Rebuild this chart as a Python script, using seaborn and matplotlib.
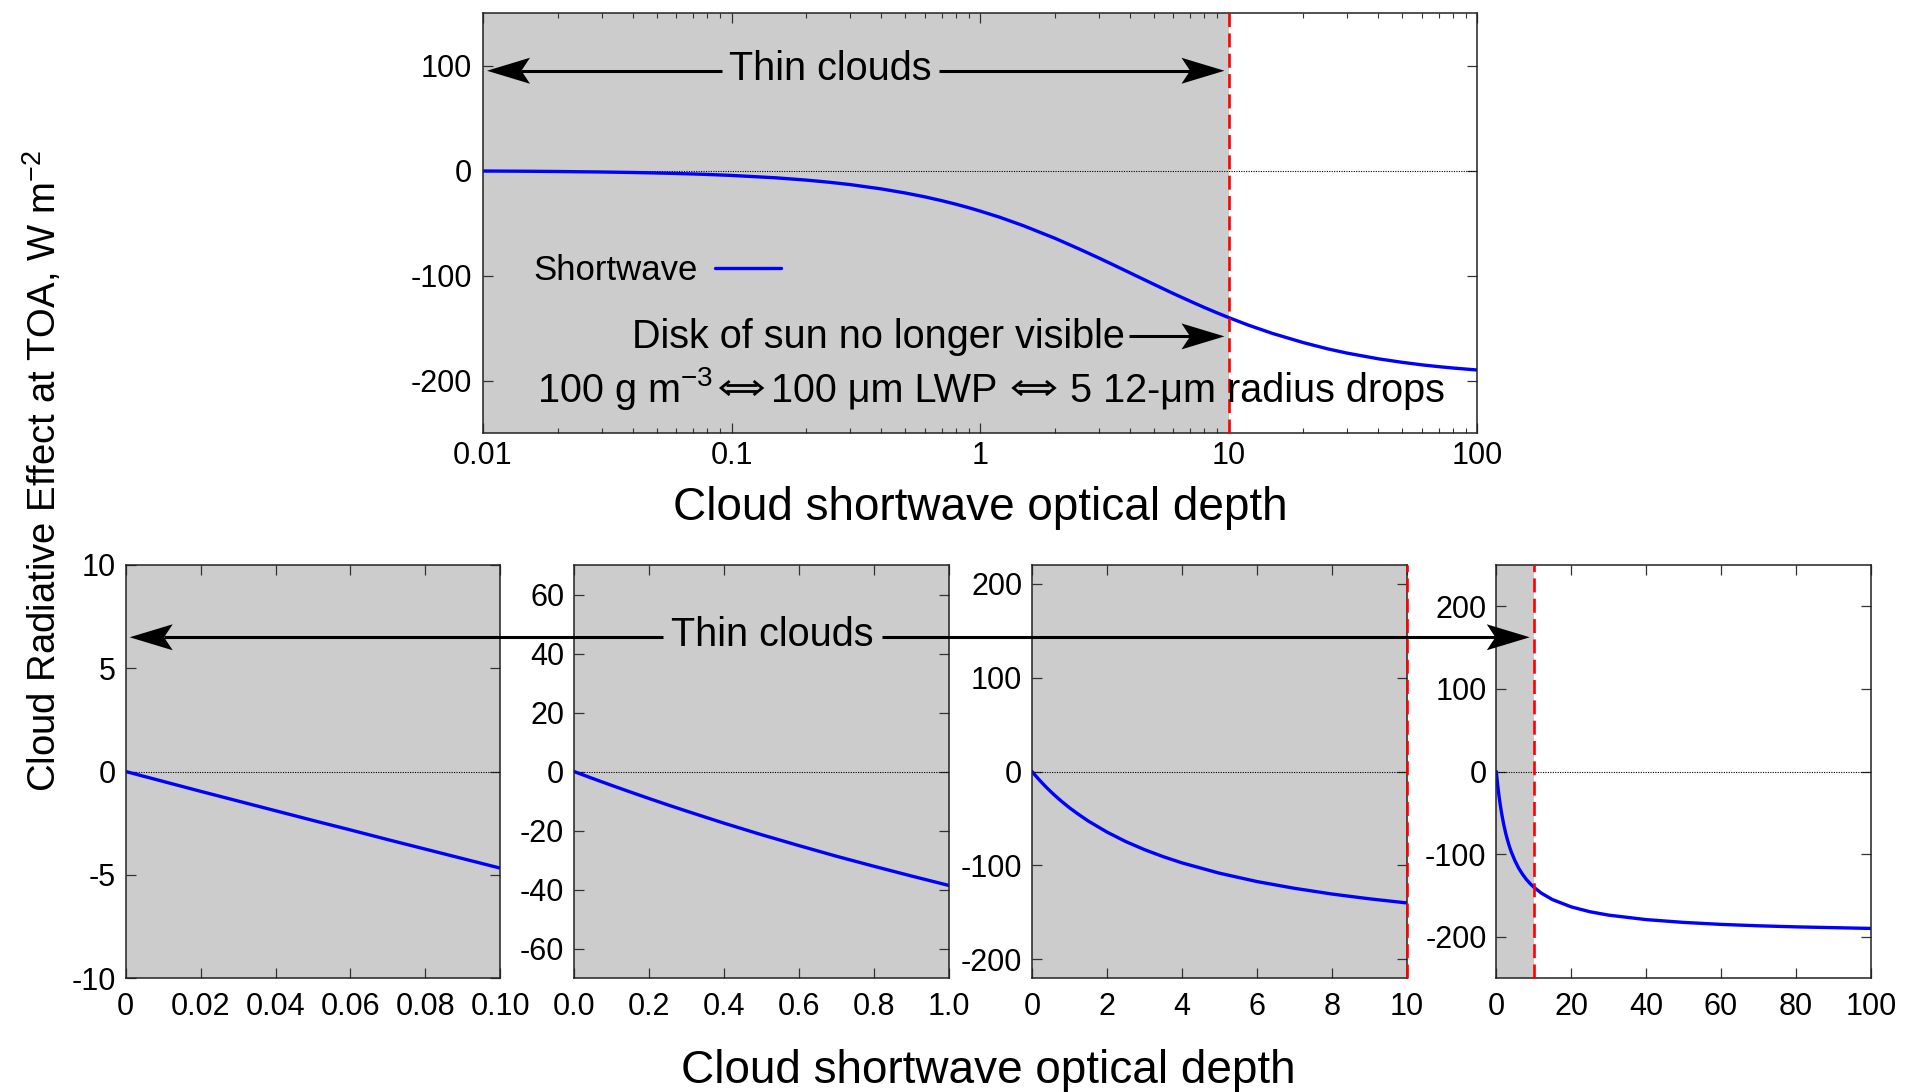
import numpy as np
import pandas as pd
import matplotlib
matplotlib.use("Agg")
import matplotlib.pyplot as plt
import seaborn as sns
from matplotlib.patches import Polygon
from matplotlib.ticker import LogLocator, NullFormatter

# Shortwave cloud radiative effect at TOA (W m-2) against cloud optical depth
tau = [0, 0.01, 0.015, 0.02, 0.03, 0.04, 0.05, 0.06, 0.07, 0.08, 0.1, 0.15, 0.2, 0.25,
       0.3, 0.4, 0.5, 0.6, 0.7, 0.8, 0.9, 1.0, 1.2, 1.5, 2, 2.5, 3, 3.5, 4, 5, 6, 7, 8,
       9, 10, 12, 15, 20, 25, 30, 40, 50, 60, 70, 80, 100]
sw_cre = [0, -0.48, -0.72, -0.96, -1.43, -1.90, -2.37, -2.83, -3.30, -3.76, -4.68, -6.93,
          -9.14, -11.3, -13.4, -17.5, -21.4, -25.1, -28.7, -32.1, -35.4, -38.6, -44.5,
          -52.7, -64.5, -74.6, -83.2, -90.7, -97.3, -108.3, -117.2, -124.4, -130.5,
          -135.6, -140.0, -147.2, -155.1, -163.9, -169.8, -173.9, -179.3, -182.7,
          -185.1, -186.8, -188.1, -190.0]

thin_limit = 10  # optical depth where the disk of the sun disappears

# Upper (log) panel axes
top_xlim = (0.01, 100)
top_ylim = (-250, 150)
top_xticks = [0.01, 0.1, 1, 10, 100]
top_xticklabels = ["0.01", "0.1", "1", "10", "100"]
top_yticks = [-200, -100, 0, 100]

# Lower (linear) panels
zoom_xlims = [(0, 0.1), (0, 1), (0, 10), (0, 100)]
zoom_ylims = [(-10, 10), (-70, 70), (-220, 220), (-250, 250)]
zoom_xticks = [[0, 0.02, 0.04, 0.06, 0.08, 0.10],
               [0, 0.2, 0.4, 0.6, 0.8, 1.0],
               [0, 2, 4, 6, 8, 10],
               [0, 20, 40, 60, 80, 100]]
zoom_xticklabels = [["0", "0.02", "0.04", "0.06", "0.08", "0.10"],
                    ["0.0", "0.2", "0.4", "0.6", "0.8", "1.0"],
                    ["0", "2", "4", "6", "8", "10"],
                    ["0", "20", "40", "60", "80", "100"]]
zoom_yticks = [[-10, -5, 0, 5, 10],
               [-60, -40, -20, 0, 20, 40, 60],
               [-200, -100, 0, 100, 200],
               [-200, -100, 0, 100, 200]]

df = pd.DataFrame({"tau": tau, "cre": sw_cre})

sns.set_style("ticks")
plt.rcParams.update({
    "font.family": ["Liberation Sans", "DejaVu Sans"],
    "mathtext.fontset": "custom",
    "mathtext.rm": "Liberation Sans",
    "mathtext.it": "Liberation Sans:italic",
    "mathtext.bf": "Liberation Sans:bold",
    "mathtext.default": "regular",
    "text.color": "black",
    "axes.labelcolor": "black",
    "axes.linewidth": 1.1,
    "axes.edgecolor": "#222222",
    "xtick.direction": "in",
    "ytick.direction": "in",
    "xtick.top": True,
    "ytick.right": True,
    "xtick.major.size": 7.5,
    "ytick.major.size": 7.5,
    "xtick.minor.size": 3.6,
    "ytick.minor.size": 3.6,
    "xtick.major.width": 0.9,
    "ytick.major.width": 0.9,
    "xtick.minor.width": 0.8,
    "ytick.minor.width": 0.8,
    "xtick.color": "#333333",
    "ytick.color": "#333333",
    "xtick.labelcolor": "black",
    "ytick.labelcolor": "black",
    "xtick.labelsize": 22,
    "ytick.labelsize": 22,
})

GRAY = "#cccccc"
BLUE = "#0000ff"
RED = "#ff0000"

W, H = 1913, 1092
fig = plt.figure(figsize=(W / 100, H / 100), dpi=100)


def box(left, top, right, bottom):
    return [left / W, 1 - bottom / H, (right - left) / W, (bottom - top) / H]


def decorate(ax, xmin):
    ax.axvspan(xmin, thin_limit, color=GRAY, lw=0, zorder=0)
    ax.axhline(0, color="k", lw=0.8, ls=(0, (1, 1.2)), zorder=1)
    ax.set_xlabel("")
    ax.set_ylabel("")
    for s in ax.spines.values():
        s.set_zorder(4)


# ---- upper panel ----
ax_top = fig.add_axes(box(483, 13, 1477, 433))
ax_top.set_xscale("log")
sns.lineplot(data=df[df.tau > 0], x="tau", y="cre", ax=ax_top, color=BLUE, lw=2.4,
             estimator=None, sort=False, label="Shortwave", zorder=3)
decorate(ax_top, top_xlim[0])
ax_top.axvline(thin_limit, color=RED, lw=1.9, dashes=(5.3, 2.4), zorder=5, clip_on=False)
ax_top.set_xlim(*top_xlim)
ax_top.set_ylim(*top_ylim)
ax_top.set_xticks(top_xticks, labels=top_xticklabels)
ax_top.xaxis.set_minor_locator(LogLocator(base=10, subs=np.arange(2, 10)))
ax_top.xaxis.set_minor_formatter(NullFormatter())
ax_top.set_yticks(top_yticks, labels=[f"{v:g}" for v in top_yticks])
ax_top.tick_params(axis="x", which="major", pad=5.5)
ax_top.tick_params(axis="y", pad=8)
ax_top.legend(loc="center left", bbox_to_anchor=(0.051, 0.386), frameon=False,
              markerfirst=False, fontsize=25, handlelength=1.9, handletextpad=0.5,
              borderpad=0, borderaxespad=0)

# ---- lower panels ----
lefts = [125.7, 574, 1032, 1496.3]
pw = 374.6
zaxes = []
for i, left in enumerate(lefts):
    ax = fig.add_axes(box(left, 565, left + pw, 978))
    sns.lineplot(data=df, x="tau", y="cre", ax=ax, color=BLUE, lw=2.4,
                 estimator=None, sort=False, legend=False, zorder=3)
    decorate(ax, zoom_xlims[i][0])
    xl = zoom_xlims[i]
    if xl[0] <= thin_limit <= xl[1]:
        ax.axvline(thin_limit, color=RED, lw=1.9, dashes=(5.3, 2.4), zorder=5, clip_on=False)
    ax.set_xlim(*xl)
    ax.set_ylim(*zoom_ylims[i])
    ax.set_xticks(zoom_xticks[i], labels=zoom_xticklabels[i])
    ax.set_yticks(zoom_yticks[i], labels=[f"{v:g}" for v in zoom_yticks[i]])
    ax.tick_params(axis="x", pad=10)
    ax.tick_params(axis="y", pad=7)
    zaxes.append(ax)

# ---- shared labels ----
fig.text(43 / W, 1 - 471 / H, "Cloud Radiative Effect at TOA, W m$^{-2}$", rotation=90,
         ha="center", va="center", fontsize=27.5)
fig.text(980 / W, 1 - 520 / H, "Cloud shortwave optical depth", ha="center",
         va="baseline", fontsize=33)
fig.text(988 / W, 1 - 1083 / H, "Cloud shortwave optical depth", ha="center",
         va="baseline", fontsize=33)

# ---- annotations, drawn in pixel space over all panels ----
ov = fig.add_axes([0, 0, 1, 1])
ov.set_xlim(0, W)
ov.set_ylim(0, H)
ov.axis("off")
ov.set_zorder(10)


def px(ax, x, y):
    return ax.transData.transform((x, y))


def head(tip_x, tip_y, direction, length=43, half=13, notch=0.8):
    verts = [(tip_x, tip_y),
             (tip_x - direction * length, tip_y + half),
             (tip_x - direction * notch * length, tip_y),
             (tip_x - direction * length, tip_y - half)]
    ov.add_patch(Polygon(verts, closed=True, fc="k", ec="none"))
    return tip_x - direction * notch * length


def shaft(x0, x1, y, lw=2.2):
    ov.plot([x0, x1], [y, y], color="k", lw=lw, solid_capstyle="butt")


def double_arrow(x0, yc, width=43, half=7.0, gap=3.4, lw=2.0):
    """Draw a wide '⇔' sign starting at x0, centred vertically on yc."""
    x1 = x0 + width
    kw = dict(color="k", lw=lw, solid_capstyle="butt", solid_joinstyle="miter")
    for dy in (gap, -gap):
        ov.plot([x0 + 6, x1 - 6], [yc + dy, yc + dy], **kw)
    ov.plot([x0 + 9.5, x0 + 1, x0 + 9.5], [yc + half, yc, yc - half], **kw)
    ov.plot([x1 - 9.5, x1 - 1, x1 - 9.5], [yc + half, yc, yc - half], **kw)
    return x1


ANN = 28.5

# "Thin clouds" across the upper panel
lx, ly = px(ax_top, top_xlim[0], 95)
rx, _ = px(ax_top, thin_limit, 95)
cx, _ = px(ax_top, 0.25, 95)
t_thin_top = ov.text(cx, ly - 9, "Thin clouds", ha="center", va="baseline", fontsize=ANN)

# "Disk of sun no longer visible"
dx, dy = px(ax_top, thin_limit, -158)
tx, _ = px(ax_top, 3.83, -158)
t_disk = ov.text(tx, dy - 11.5, "Disk of sun no longer visible", ha="right",
                 va="baseline", fontsize=ANN)

# "Thin clouds" across the lower panels
bl, by = px(zaxes[0], 0, 6.5)
br, _ = px(zaxes[3], thin_limit, 0)
bc, _ = px(zaxes[1], 0.53, 0)
t_thin_bot = ov.text(bc, by - 8.5, "Thin clouds", ha="center", va="baseline", fontsize=ANN)

fig.canvas.draw()
r = fig.canvas.get_renderer()

# Equivalence note, laid out piece by piece around the double arrows
ex, ey = px(ax_top, 0.0165, -220)
pieces = [("100 g m$^{-3}$", 0), (None, 7), ("100 \u03bcm LWP", 8),
          (None, 15), ("5 12-\u03bcm radius drops", 15)]
xcur = ex
for s, gap in pieces:
    xcur += gap
    if s is None:
        xcur = double_arrow(xcur, ey + 13.5)
    else:
        t = ov.text(xcur, ey, s, ha="left", va="baseline", fontsize=ANN)
        xcur = t.get_window_extent(r).x1

bb = t_thin_top.get_window_extent(r)
shaft(bb.x0 - 7, head(lx + 4, ly, -1), ly)
shaft(bb.x1 + 7, head(rx - 4, ly, 1), ly)

bb = t_disk.get_window_extent(r)
shaft(bb.x1 + 4, head(dx - 4, dy, 1), dy)

bb = t_thin_bot.get_window_extent(r)
shaft(bb.x0 - 8, head(bl + 4, by, -1), by)
shaft(bb.x1 + 8, head(br - 4, by, 1), by)

fig.savefig("out.png", dpi=100)
